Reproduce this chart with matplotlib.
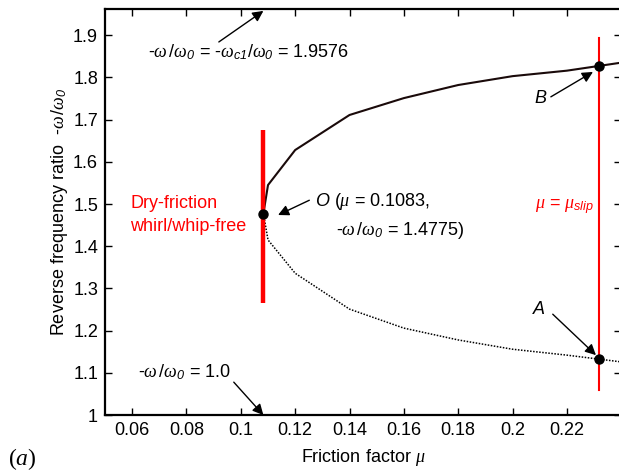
import matplotlib
matplotlib.use("Agg")
import matplotlib.pyplot as plt

plt.rcParams['font.family'] = ['Liberation Sans', 'DejaVu Sans']
plt.rcParams['mathtext.fontset'] = 'custom'
plt.rcParams['mathtext.rm'] = 'Liberation Sans'
plt.rcParams['mathtext.it'] = 'Liberation Serif:italic'
plt.rcParams['mathtext.sf'] = 'Liberation Sans:italic'
plt.rcParams['font.size'] = 13

# branches of the reverse whirl frequency vs friction factor
mu = [0.1083, 0.11, 0.12, 0.14, 0.16, 0.18, 0.20, 0.22, 0.24]
ratio_upper = [1.4775, 1.545, 1.628, 1.711, 1.751, 1.782, 1.803, 1.816, 1.835]
ratio_lower = [1.4775, 1.415, 1.336, 1.251, 1.206, 1.178, 1.156, 1.142, 1.126]

mu_O, ratio_O = 0.1083, 1.4775
mu_slip = 0.2319
ratio_B = 1.827
ratio_A = 1.133
ratio_c1 = 1.9576

xticks = [0.06, 0.08, 0.1, 0.12, 0.14, 0.16, 0.18, 0.2, 0.22]
xticklabels = ['0.06', '0.08', '0.1', '0.12', '0.14', '0.16', '0.18', '0.2', '0.22']
yticks = [1, 1.1, 1.2, 1.3, 1.4, 1.5, 1.6, 1.7, 1.8, 1.9]
yticklabels = ['1', '1.1', '1.2', '1.3', '1.4', '1.5', '1.6', '1.7', '1.8', '1.9']

W = r'$\omega\,/\omega_{\mathsf{0}}$'

fig = plt.figure(figsize=(6.19, 4.76), dpi=100)
ax = fig.add_axes([0.1696, 0.128, 0.834, 0.853])

ax.plot(mu, ratio_upper, color='#1a0a0a', lw=1.5)
ax.plot(mu, ratio_lower, color='black', lw=1.1, linestyle=(0, (1, 1)))

# free-whirl boundary and slip limit
ax.plot([mu_O, mu_O], [1.265, 1.675], color='red', lw=3.2, solid_capstyle='butt')
ax.plot([mu_slip, mu_slip], [1.059, 1.893], color='red', lw=1.5)

ax.plot([mu_O, mu_slip, mu_slip], [ratio_O, ratio_B, ratio_A], 'o',
        color='black', ms=6.5, zorder=5)

arrow = dict(arrowstyle='-|>', color='black', lw=1.0, mutation_scale=16,
             shrinkA=0, shrinkB=0)

ax.annotate('', xy=(mu_O, ratio_c1), xytext=(0.0919, 1.884), arrowprops=arrow,
            annotation_clip=False)
ax.text(0.0659, 1.860, '-' + W + ' = -' + r'$\omega_{\mathsf{c1}}/\omega_{\mathsf{0}}$' + ' = 1.9576',
        va='center', ha='left')

ax.annotate('', xy=(mu_O, 1.0), xytext=(0.0974, 1.078), arrowprops=arrow,
            annotation_clip=False)
ax.text(0.0622, 1.102, '-' + W + ' = 1.0', va='center', ha='left')

ax.annotate('', xy=(0.1137, 1.474), xytext=(0.1252, 1.509), arrowprops=arrow)
ax.text(0.1274, 1.507, r'$\mathsf{O}$ (' + r'$\mu$' + ' = 0.1083,', va='center', ha='left')
ax.text(0.1352, 1.438, '-' + W + ' = 1.4775)', va='center', ha='left')

ax.annotate('', xy=(0.2296, 1.813), xytext=(0.2141, 1.754), arrowprops=arrow)
ax.text(0.2104, 1.751, r'$\mathsf{B}$', va='center', ha='center')

ax.annotate('', xy=(0.2307, 1.142), xytext=(0.2148, 1.239), arrowprops=arrow)
ax.text(0.2096, 1.249, r'$\mathsf{A}$', va='center', ha='center')

ax.text(0.2081, 1.493, r'$\mu$ = $\mu_{\mathsf{slip}}$', color='red', va='center', ha='left')
ax.text(0.0593, 1.502, 'Dry-friction', color='red', va='center', ha='left')
ax.text(0.0593, 1.447, 'whirl/whip-free', color='red', va='center', ha='left')

ax.set_xlim(0.05, 0.24)
ax.set_ylim(1, 1.962)
ax.set_xticks(xticks)
ax.set_xticklabels(xticklabels)
ax.set_yticks(yticks)
ax.set_yticklabels(yticklabels)
ax.tick_params(direction='in', length=5, width=1, top=True, right=True, pad=5)
for s in ax.spines.values():
    s.set_linewidth(1.6)

ax.set_xlabel(r'Friction factor $\mu$', labelpad=6)
ax.set_ylabel('Reverse frequency ratio  -' + W, labelpad=2)

fig.text(0.013, 1 - 459 / 476, '(' + r'$a$' + ')', family='Liberation Serif',
         fontsize=17, va='center', ha='left')

fig.savefig('out.png', dpi=100)
